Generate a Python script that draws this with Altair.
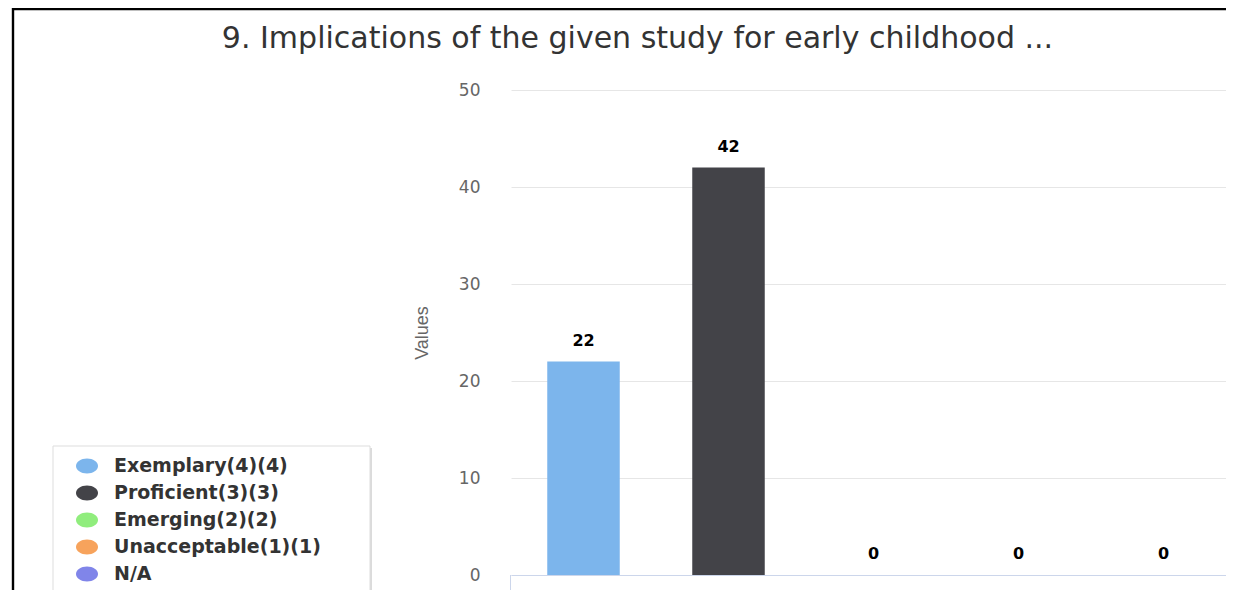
import altair as alt
import pandas as pd

categories = ["Exemplary(4)(4)", "Proficient(3)(3)", "Emerging(2)(2)", "Unacceptable(1)(1)", "N/A"]
values = [22, 42, 0, 0, 0]
colors = ["#7cb5ec", "#434348", "#90ed7d", "#f7a35c", "#8085e9"]
y_ticks = [0, 10, 20, 30, 40, 50]
title_text = "9. Implications of the given study for early childhood ..."

df = pd.DataFrame({"category": categories, "value": values})
one = pd.DataFrame({"a": [0]})

W, H = 715, 485
FONT = "DejaVu Sans"
FONT2 = "Liberation Sans"

xenc = alt.X("category:N", sort=categories,
             scale=alt.Scale(paddingInner=0.5, paddingOuter=0.25, range=[0, 725]),
             axis=alt.Axis(labels=False, ticks=False, title=None, grid=False,
                           domainColor="#ccd6eb", domainWidth=1))
yenc = alt.Y("value:Q", scale=alt.Scale(domain=[0, 50]),
             axis=alt.Axis(values=y_ticks, title="Values", domain=False, ticks=False,
                           gridColor="#e6e6e6", gridWidth=1,
                           labelColor="#666666", labelFontSize=17, labelFont=FONT,
                           labelPadding=31,
                           titleColor="#666666", titleFontSize=18, titleFont=FONT2,
                           titleFontWeight="normal", titleX=-89, titleY=H / 2,
                           titleAngle=270, titleBaseline="middle", titleAlign="center"))

base = alt.Chart(df)

bars = base.mark_bar().encode(
    x=xenc, y=yenc,
    color=alt.Color("category:N", sort=categories,
                    scale=alt.Scale(domain=categories, range=colors),
                    legend=alt.Legend(orient="none", legendX=-435, legendY=365, title=None,
                                      symbolType="M-1,0A1,0.68,0,1,1,1,0A1,0.68,0,1,1,-1,0Z",
                                      symbolSize=484, symbolStrokeWidth=0, symbolOpacity=1,
                                      labelFontSize=19, labelFontWeight="bold",
                                      labelColor="#333333", labelFont=FONT,
                                      rowPadding=6, labelOffset=16, padding=0,
                                      labelLimit=400)),
)

labels = base.mark_text(dy=-21, fontWeight="bold", fontSize=16, font=FONT,
                        color="#000000", baseline="middle").encode(
    x=xenc, y=yenc, text="value:Q")

deco = alt.Chart(one)
title = deco.mark_text(fontSize=30, font=FONT, color="#333333", align="center",
                       baseline="middle").encode(
    x=alt.value(126.5), y=alt.value(-51), text=alt.value(title_text))
shadow = deco.mark_rect(color="#999999", opacity=0.35).encode(
    x=alt.value(-456), x2=alt.value(-139), y=alt.value(358), y2=alt.value(512))
box = deco.mark_rect(fill="#ffffff", stroke="#dddddd", strokeWidth=1).encode(
    x=alt.value(-458), x2=alt.value(-141), y=alt.value(356), y2=alt.value(510))
frame_top = deco.mark_rule(color="#000000", strokeWidth=2.4).encode(
    x=alt.value(-499), x2=alt.value(W + 10), y=alt.value(-81))
frame_left = deco.mark_rule(color="#000000", strokeWidth=2.4).encode(
    x=alt.value(-498), y=alt.value(-82), y2=alt.value(H + 20))
tick = deco.mark_rule(color="#ccd6eb", strokeWidth=1).encode(
    x=alt.value(-0.5), y=alt.value(H), y2=alt.value(H + 15))

chart = alt.layer(shadow, box, frame_top, frame_left, tick, title, bars, labels).properties(
    width=W, height=H, autosize="none",
    padding={"left": 503, "top": 82, "right": 0, "bottom": 15},
    background="#ffffff",
).configure_view(stroke=None)

chart.save("out.html", embed_options={"renderer": "svg", "actions": False})
